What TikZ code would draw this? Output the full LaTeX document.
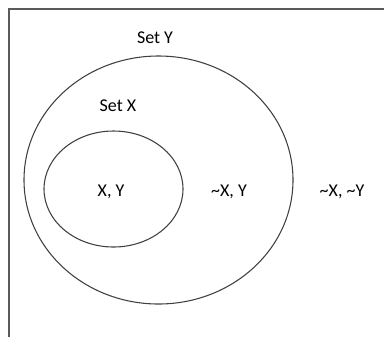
\documentclass[tikz,border=0pt]{standalone}
\usepackage{fontspec}
\setmainfont{Carlito}
\usepackage{xcolor}
\usepackage{tikz}
\usetikzlibrary{positioning,calc}

\definecolor{framegray}{HTML}{5A5A5A}
\definecolor{setgray}{HTML}{404040}

\tikzset{
	setlabel/.style={font=\fontsize{13.5}{16}\selectfont, inner sep=0pt},
	setline/.style={draw=setgray, line width=0.8pt}
}

\begin{document}
\begin{tikzpicture}[x=0.75pt,y=-0.75pt]
	\useasboundingbox (0,0) rectangle (384,337);
	
	% open frame (left and top sides)
	\draw[framegray, line width=1.2pt] (9,337)--(9,9)--(384,9);
	
	% the two sets
	\draw[setline] (158.5,180) ellipse (134.5 and 124);
	\draw[setline] (113.5,189) ellipse (69.5 and 58);
	
	\node[setlabel] (setY) at (155,38) {Set Y};
	\node[setlabel] (setX) at (118,106) {Set X};
	
	\node[setlabel] (xy) at (111,192) {X, Y};
	\node[setlabel] (nxy) at (229,192) {\textasciitilde X, Y};
	\node[setlabel] (nxny) at (342,192) {\textasciitilde X, \textasciitilde Y};
\end{tikzpicture}
\end{document}
